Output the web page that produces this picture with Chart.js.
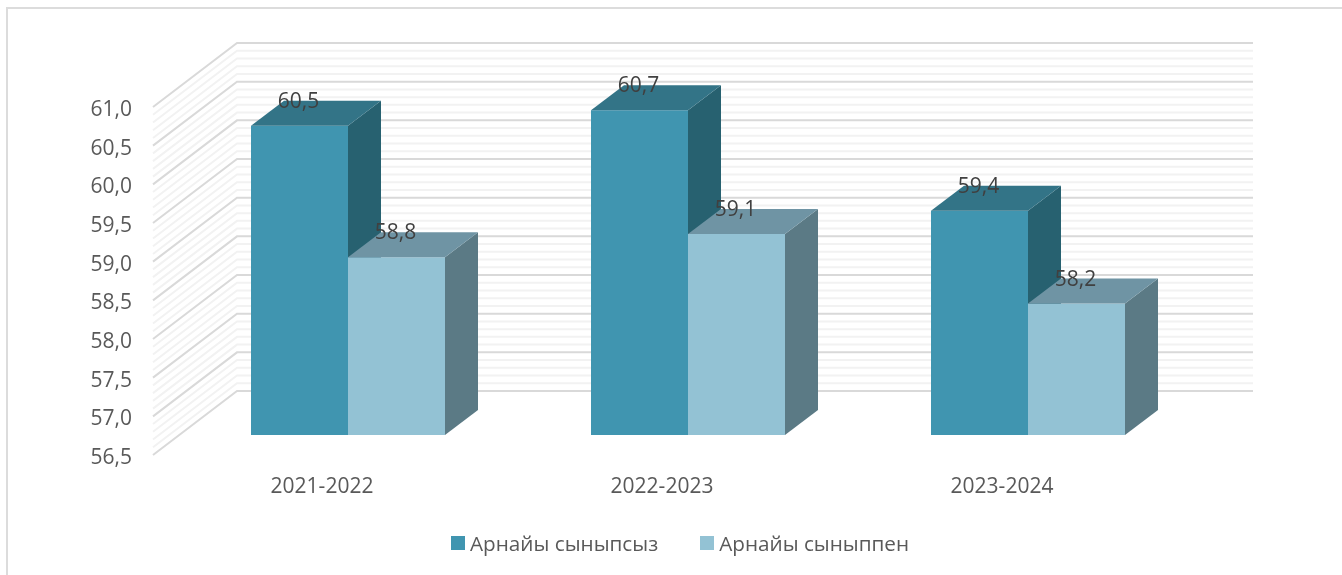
<!DOCTYPE html>
<html>
<head>
<meta charset="utf-8">
<style>
  html, body { margin: 0; padding: 0; background: #fff; overflow: hidden; width: 1342px; height: 575px; }
  #frame { position: absolute; left: 6px; top: 7px; width: 1400px; height: 700px; border: 2px solid #dcdcdc; }
  #chart { position: absolute; left: 0; top: 0; }
  #legend { position: absolute; left: 451px; top: 526px; height: 34px; display: flex; align-items: center; font: 20.7px "Open Sans", sans-serif; color: #595959; white-space: nowrap; }
  #legend span.item { display: flex; align-items: center; margin-right: 42px; }
  #legend i { display: block; width: 14px; height: 14px; margin-right: 5px; }
</style>
<script src="https://cdn.jsdelivr.net/npm/chart.js@4/dist/chart.umd.js"></script>
</head>
<body>
<div id="frame"></div>
<canvas id="chart" width="1342" height="575"></canvas>
<div id="legend"></div>
<script>
const categories = ['2021-2022', '2022-2023', '2023-2024'];
const seriesNames = ['Арнайы сыныпсыз', 'Арнайы сыныппен'];
const withoutClass = [60.5, 60.7, 59.4];
const withClass = [58.8, 59.1, 58.2];
const yMin = 56.5;
const yMax = 61;

const FONT = '"Open Sans", sans-serif';
const FONT_SIZE = 21;
const TICK_COLOR = '#595959';
const comma = (v) => Number(v).toFixed(1).replace('.', ',');

// oblique projection offsets
const bar3d = { dx: 33, dy: 25 };
const wall = { left: 237, right: 1253, offsetY: -44 };
const side = { left: 153, offsetY: 20 };

const faceColors = [
  { top: '#337487', side: '#276170' },
  { top: '#6f94a4', side: '#5b7a85' },
];

function fillFace(ctx, color, pts) {
  ctx.fillStyle = color;
  ctx.beginPath();
  pts.forEach(([x, y], i) => (i ? ctx.lineTo(x, y) : ctx.moveTo(x, y)));
  ctx.closePath();
  ctx.fill();
}

function drawFaces(chart, index) {
  const { ctx, chartArea } = chart;
  const colors = faceColors[index];
  const { dx, dy } = bar3d;
  chart.getDatasetMeta(index).data.forEach((bar) => {
    const { x, y, width } = bar;
    const base = chartArea.bottom; // the real base pixel is value 0, far below the axis
    const l = x - width / 2;
    const r = x + width / 2;
    fillFace(ctx, colors.side, [[r, y], [r + dx, y - dy], [r + dx, base - dy], [r, base]]);
    fillFace(ctx, colors.top, [[l, y], [l + dx, y - dy], [r + dx, y - dy], [r, y]]);
  });
}

const wallPlugin = {
  id: 'wall',
  beforeDatasetsDraw(chart) {
    const { ctx, scales: { y } } = chart;
    const steps = Math.round((yMax - yMin) * 10);
    ctx.save();
    // minor lines first so the major ones sit on top
    [false, true].forEach((major) => {
      for (let i = 0; i <= steps; i++) {
        if ((i % 5 === 0) !== major) continue;
        const py = y.getPixelForValue(yMin + i / 10);
        ctx.strokeStyle = major ? '#d9d9d9' : '#f2f2f2';
        ctx.lineWidth = 2;
        ctx.beginPath();
        ctx.moveTo(side.left, py + side.offsetY);
        ctx.lineTo(wall.left, py + wall.offsetY);
        ctx.lineTo(wall.right, py + wall.offsetY);
        ctx.stroke();
      }
    });
    ctx.restore();
  },
};

// Chart.js paints the last dataset first, the 3D look needs the opposite:
// the light bars have to cover the side face of the dark ones.
const facesPlugin = {
  id: 'faces',
  beforeDatasetDraw(chart, args) {
    if (args.index === 1) return false;
  },
  afterDatasetDraw(chart, args) {
    if (args.index !== 0) return;
    const { ctx, chartArea } = chart;
    drawFaces(chart, 0);
    ctx.save();
    ctx.beginPath();
    ctx.rect(chartArea.left, chartArea.top, chartArea.width, chartArea.height);
    ctx.clip();
    chart.getDatasetMeta(1).controller.draw();
    ctx.restore();
    drawFaces(chart, 1);
  },
};

const valueLabels = {
  id: 'valueLabels',
  afterDatasetsDraw(chart) {
    const { ctx } = chart;
    ctx.save();
    ctx.font = FONT_SIZE + 'px ' + FONT;
    ctx.fillStyle = '#404040';
    ctx.textAlign = 'center';
    ctx.textBaseline = 'middle';
    chart.data.datasets.forEach((ds, d) => {
      chart.getDatasetMeta(d).data.forEach((bar, i) => {
        ctx.fillText(comma(ds.data[i]), bar.x - 1, bar.y - 24);
      });
    });
    ctx.restore();
  },
};

const chart = new Chart(document.getElementById('chart'), {
  type: 'bar',
  data: {
    labels: categories,
    datasets: [
      { label: seriesNames[0], data: withoutClass, backgroundColor: '#4095b0' },
      { label: seriesNames[1], data: withClass, backgroundColor: '#93c2d4' },
    ],
  },
  options: {
    responsive: false,
    animation: false,
    layout: { padding: { top: 87, right: 144, left: 0, bottom: 0 } },
    datasets: { bar: { categoryPercentage: 0.5706, barPercentage: 1 } },
    plugins: { legend: { display: false }, tooltip: { enabled: false } },
    scales: {
      x: {
        grid: { display: false },
        border: { display: false },
        afterFit: (scale) => { scale.height = 140; },
        ticks: {
          color: TICK_COLOR,
          font: { family: FONT, size: FONT_SIZE },
          padding: 31,
          labelOffset: -26,
          autoSkip: false,
          maxRotation: 0,
        },
      },
      y: {
        min: yMin,
        max: yMax,
        grid: { display: false },
        border: { display: false },
        afterFit: (scale) => { scale.width = 178; },
        ticks: {
          stepSize: 0.5,
          color: TICK_COLOR,
          font: { family: FONT, size: FONT_SIZE },
          padding: 38,
          labelOffset: 23,
          callback: comma,
        },
      },
    },
  },
  plugins: [wallPlugin, facesPlugin, valueLabels],
});

document.getElementById('legend').innerHTML = chart.data.datasets
  .map((ds) => `<span class="item"><i style="background:${ds.backgroundColor}"></i>${ds.label}</span>`)
  .join('');
</script>
</body>
</html>
